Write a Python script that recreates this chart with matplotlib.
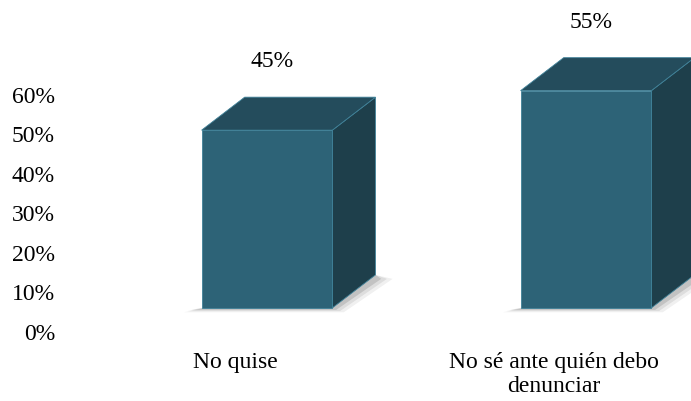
import matplotlib.pyplot as plt
from matplotlib.patches import Polygon

plt.rcParams['font.family'] = ['Liberation Serif', 'DejaVu Serif']

categories = ['No quise', 'No sé ante quién debo\ndenunciar']
values = [45, 55]
ticks = [0, 10, 20, 30, 40, 50, 60]

front_col = '#2d6377'
top_col = '#244c5c'
side_col = '#1e3f4b'
edge_col = '#3f8198'

width = 0.41      # bar width in category units
dx, dy = 0.135, 8.35  # depth offset of the 3D boxes
floor = 6.1       # front face base level

fig = plt.figure(figsize=(6.91, 4.01), dpi=100)
ax = fig.add_axes([62 / 691, 0, 1 - 62 / 691, 1])
ax.set_xlim(-0.6426, 1.3292)
ax.set_ylim(-17.47, 84.05)

for i, (cat, val) in enumerate(zip(categories, values)):
    x0, x1 = i - width / 2, i + width / 2
    y0, y1 = floor, floor + val

    # soft floor shadow hugging the base
    for k, a in enumerate([0.06, 0.08, 0.12]):
        g = 0.012 * (3 - k)
        shadow = [(x0 - 0.02 - g, y0 - 0.2 - g * 25), (x1 + g, y0 - 0.2 - g * 25),
                  (x1 + dx + g * 1.5, y0 + dy - 1.0), (x1 + dx, y0 + dy)]
        ax.add_patch(Polygon(shadow, closed=True, facecolor='black', alpha=a,
                             edgecolor='none', zorder=1))

    side = [(x1, y0), (x1 + dx, y0 + dy), (x1 + dx, y1 + dy), (x1, y1)]
    top = [(x0, y1), (x1, y1), (x1 + dx, y1 + dy), (x0 + dx, y1 + dy)]
    ax.add_patch(Polygon(side, closed=True, facecolor=side_col,
                         edgecolor=edge_col, linewidth=0.6, zorder=2))
    ax.add_patch(Polygon(top, closed=True, facecolor=top_col,
                         edgecolor=edge_col, linewidth=0.6, zorder=2))
    ax.bar(i, val, width=width, bottom=y0, color=front_col,
           edgecolor=edge_col, linewidth=0.6, zorder=3)

    ax.text(i + 0.015, y1 + dy + 9, f'{val}%', ha='center', va='center',
            fontsize=17, color='black')
    ax.text(i - 0.1, -5.0, cat, ha='center', va='top', fontsize=17,
            linespacing=1.2, color='black')

ax.set_yticks(ticks)
ax.set_yticklabels([f'{t}%' for t in ticks], fontsize=17)
ax.tick_params(axis='y', length=0, pad=5)
ax.set_xticks([])
for s in ax.spines.values():
    s.set_visible(False)

fig.savefig('out.png', dpi=100)
